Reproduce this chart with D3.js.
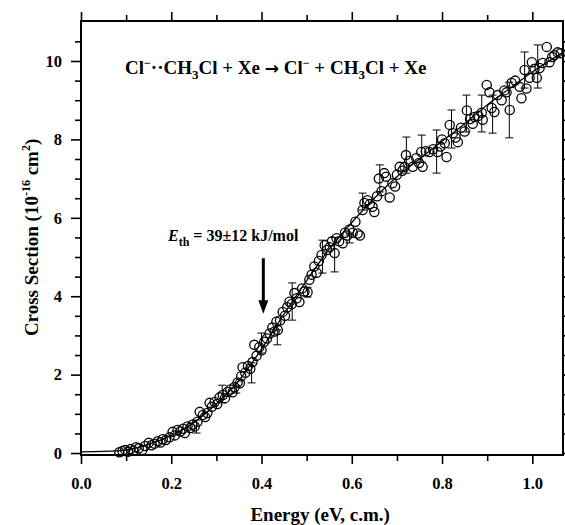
<!DOCTYPE html>
<html>
<head>
<meta charset="utf-8">
<script src="https://cdn.jsdelivr.net/npm/d3@7"></script>
<style>
  body { margin: 0; background: #fff; }
  svg text { font-family: "Liberation Serif", "Times New Roman", serif; font-weight: bold; fill: #000; }
  .axis line { stroke: #000; stroke-width: 1.6; }
  .axis path { display: none; }
</style>
</head>
<body>
<div id="chart"></div>
<script>
// measured points (energy in eV c.m., cross section in 1e-16 cm^2)
var energy = [
  0.085, 0.092, 0.098, 0.104, 0.110, 0.116, 0.122, 0.128, 0.136, 0.142,
  0.150, 0.156, 0.163, 0.170, 0.176, 0.181, 0.188, 0.196, 0.203, 0.208,
  0.214, 0.220, 0.226, 0.230, 0.236, 0.242, 0.247, 0.252, 0.258, 0.263,
  0.270, 0.275, 0.280, 0.285, 0.290, 0.296, 0.302, 0.307, 0.314, 0.319,
  0.325, 0.331, 0.336, 0.340, 0.347, 0.352, 0.355, 0.358, 0.364, 0.370,
  0.375, 0.380, 0.384, 0.389, 0.395, 0.400, 0.406, 0.412, 0.418, 0.424,
  0.429, 0.433, 0.436, 0.441, 0.447, 0.452, 0.457, 0.462, 0.467, 0.473,
  0.478, 0.484, 0.490, 0.495, 0.502, 0.506, 0.511, 0.517, 0.522, 0.527,
  0.533, 0.540, 0.545, 0.551, 0.556, 0.562, 0.566, 0.572, 0.580, 0.585,
  0.590, 0.595, 0.602, 0.608, 0.613, 0.618, 0.624, 0.628, 0.635, 0.640,
  0.646, 0.650, 0.656, 0.660, 0.666, 0.672, 0.676, 0.684, 0.690, 0.696,
  0.700, 0.706, 0.712, 0.717, 0.720, 0.727, 0.735, 0.743, 0.749, 0.754,
  0.757, 0.764, 0.772, 0.780, 0.790, 0.796, 0.800, 0.806, 0.810, 0.817,
  0.824, 0.830, 0.835, 0.842, 0.850, 0.855, 0.862, 0.868, 0.872, 0.880,
  0.888, 0.890, 0.899, 0.905, 0.910, 0.916, 0.923, 0.932, 0.938, 0.943,
  0.950, 0.954, 0.962, 0.972, 0.976, 0.983, 0.987, 0.994, 0.999, 1.005,
  1.010, 1.016, 1.023, 1.032, 1.038, 1.044, 1.049, 1.056, 1.063
]
var sigma = [
  0.02, 0.05, 0.08, 0.03, 0.10, 0.06, 0.15, 0.12, 0.08, 0.18,
  0.26, 0.20, 0.24, 0.30, 0.27, 0.35, 0.33, 0.40, 0.54, 0.45,
  0.59, 0.55, 0.62, 0.51, 0.68, 0.64, 0.72, 0.68, 0.80, 1.05,
  0.97, 0.92, 1.02, 1.28, 1.18, 1.30, 1.25, 1.42, 1.48, 1.40,
  1.56, 1.62, 1.55, 1.68, 1.80, 1.78, 1.96, 2.19, 2.05, 2.22,
  2.15, 2.32, 2.76, 2.48, 2.70, 2.62, 2.84, 2.92, 3.05, 3.20,
  3.10, 3.35, 3.14, 3.38, 3.60, 3.50, 3.72, 3.86, 3.80, 4.08,
  3.95, 3.85, 4.20, 4.12, 4.10, 4.42, 4.55, 4.76, 4.60, 4.90,
  5.05, 5.30, 5.18, 5.25, 5.40, 5.10, 5.48, 5.40, 5.35, 5.62,
  5.55, 5.70, 5.62, 5.90, 5.60, 5.55, 6.20, 6.38, 6.45, 6.35,
  6.28, 6.15, 6.55, 7.00, 6.68, 7.14, 7.05, 6.52, 6.88, 6.80,
  7.10, 7.30, 7.20, 7.30, 7.60, 7.45, 7.30, 7.52, 7.40, 7.68,
  7.30, 7.70, 7.68, 7.75, 7.68, 7.82, 8.00, 7.90, 7.55, 8.37,
  8.16, 8.05, 7.93, 8.30, 8.20, 8.74, 8.52, 8.40, 8.57, 8.60,
  8.68, 8.50, 9.39, 9.20, 8.80, 8.70, 9.13, 9.00, 9.25, 9.20,
  8.75, 9.44, 9.50, 9.34, 9.05, 9.77, 9.30, 9.57, 9.97, 9.80,
  9.57, 9.82, 9.95, 10.36, 9.97, 10.10, 10.15, 10.22, 10.20
]

// error bars drawn on a subset of points
var errEnergy = [0.256, 0.313, 0.344, 0.378, 0.400, 0.435, 0.468, 0.502, 0.535, 0.562, 0.595,
  0.624, 0.662, 0.721, 0.755, 0.788, 0.821, 0.854, 0.888, 0.912, 0.949, 0.983, 1.012]
var errLow = [0.51, 1.28, 1.53, 1.79, 2.55, 2.76, 3.39, 3.98, 4.59, 4.62, 5.36,
  6.20, 6.66, 7.14, 7.42, 7.14, 7.78, 8.19, 8.19, 8.16, 8.04, 9.31, 9.31]
var errHigh = [0.84, 1.73, 1.73, 2.30, 3.06, 3.14, 4.34, 4.23, 5.43, 5.50, 5.56,
  6.63, 7.35, 8.06, 8.11, 8.24, 8.75, 9.13, 9.13, 9.13, 9.46, 10.23, 10.41]

// fitted model curve
var fitEnergy = [0.00, 0.05, 0.10, 0.15, 0.20, 0.25, 0.30, 0.35, 0.40, 0.45, 0.50,
  0.55, 0.60, 0.65, 0.70, 0.75, 0.80, 0.85, 0.90, 0.95, 1.00, 1.068]
var fitSigma = [0.03, 0.04, 0.08, 0.22, 0.45, 0.78, 1.25, 1.85, 2.65, 3.55, 4.40,
  5.20, 5.88, 6.50, 7.05, 7.50, 7.95, 8.40, 8.88, 9.30, 9.72, 10.22]

var xMajor = [0.0, 0.2, 0.4, 0.6, 0.8, 1.0]
var xMinor = [0.1, 0.3, 0.5, 0.7, 0.9]
var yMajor = [0, 2, 4, 6, 8, 10]
var yMinor = [0.5, 1, 1.5, 2.5, 3, 3.5, 4.5, 5, 5.5, 6.5, 7, 7.5, 8.5, 9, 9.5, 10.5]

var thresholdE = 0.404

var margin = {top: 21, right: 2, bottom: 70, left: 81}
var W = 565
var H = 525
var width = W - margin.left - margin.right
var height = H - margin.top - margin.bottom

var svg = d3.select('#chart').append('svg')
  .attr('width', W)
  .attr('height', H)

var g = svg.append('g')
  .attr('transform', 'translate(' + margin.left + ',' + margin.top + ')')

var x = d3.scaleLinear().domain([0, 1.068]).range([0, width])
var y = d3.scaleLinear().domain([-0.05, 11.02]).range([height, 0])

// axes: majors with labels, minors without
g.append('g').attr('class', 'axis')
  .attr('transform', 'translate(0,' + height + ')')
  .call(d3.axisBottom(x).tickValues(xMajor).tickSize(9).tickPadding(13).tickFormat(d3.format('.1f')))
  .selectAll('text').style('font-size', '16.5px')
g.append('g').attr('class', 'axis')
  .attr('transform', 'translate(0,' + height + ')')
  .call(d3.axisBottom(x).tickValues(xMinor).tickSize(6).tickFormat(''))
g.append('g').attr('class', 'axis')
  .call(d3.axisTop(x).tickValues(xMajor).tickSize(9).tickFormat(''))
g.append('g').attr('class', 'axis')
  .call(d3.axisTop(x).tickValues(xMinor).tickSize(6).tickFormat(''))

g.append('g').attr('class', 'axis')
  .call(d3.axisLeft(y).tickValues(yMajor).tickSize(10).tickPadding(9).tickFormat(d3.format('d')))
  .selectAll('text').style('font-size', '16.5px')
g.append('g').attr('class', 'axis')
  .call(d3.axisLeft(y).tickValues(yMinor).tickSize(6).tickFormat(''))
g.append('g').attr('class', 'axis')
  .attr('transform', 'translate(' + width + ',0)')
  .call(d3.axisRight(y).tickValues(yMajor).tickSize(8).tickFormat(''))
g.append('g').attr('class', 'axis')
  .attr('transform', 'translate(' + width + ',0)')
  .call(d3.axisRight(y).tickValues(yMinor).tickSize(5).tickFormat(''))

g.append('rect')
  .attr('width', width)
  .attr('height', height)
  .attr('fill', 'none')
  .attr('stroke', '#000')
  .attr('stroke-width', 2)

// fit line
var fitData = fitEnergy.map(function (e, i) { return [e, fitSigma[i]] })
g.append('path')
  .datum(fitData)
  .attr('fill', 'none')
  .attr('stroke', '#000')
  .attr('stroke-width', 1.3)
  .attr('d', d3.line()
    .x(function (d) { return x(d[0]) })
    .y(function (d) { return y(d[1]) })
    .curve(d3.curveMonotoneX))

// error bars
var errData = errEnergy.map(function (e, i) { return {e: e, lo: errLow[i], hi: errHigh[i]} })
var bars = g.selectAll('.err')
  .data(errData)
  .enter().append('g')
  .attr('class', 'err')
  .attr('stroke', '#000')
  .attr('stroke-width', 1)
bars.append('line')
  .attr('x1', function (d) { return x(d.e) })
  .attr('x2', function (d) { return x(d.e) })
  .attr('y1', function (d) { return y(d.lo) })
  .attr('y2', function (d) { return y(d.hi) })
bars.append('line')
  .attr('x1', function (d) { return x(d.e) - 4 })
  .attr('x2', function (d) { return x(d.e) + 4 })
  .attr('y1', function (d) { return y(d.lo) })
  .attr('y2', function (d) { return y(d.lo) })
bars.append('line')
  .attr('x1', function (d) { return x(d.e) - 4 })
  .attr('x2', function (d) { return x(d.e) + 4 })
  .attr('y1', function (d) { return y(d.hi) })
  .attr('y2', function (d) { return y(d.hi) })

// data points
g.selectAll('.pt')
  .data(energy)
  .enter().append('circle')
  .attr('class', 'pt')
  .attr('cx', function (d) { return x(d) })
  .attr('cy', function (d, i) { return y(sigma[i]) })
  .attr('r', 4.6)
  .attr('fill', 'none')
  .attr('stroke', '#000')
  .attr('stroke-width', 1.3)

// reaction label
var title = g.append('text')
  .attr('x', 44)
  .attr('y', 53)
  .style('font-size', '19px')
title.append('tspan').text('Cl')
title.append('tspan').attr('dy', -7).style('font-size', '12px').text('\u2212')
title.append('tspan').attr('dy', 7).text('\u00b7\u00b7CH')
title.append('tspan').attr('dy', 5).style('font-size', '13px').text('3')
title.append('tspan').attr('dy', -5).text('Cl + Xe ')
title.append('tspan').style('font-family', 'DejaVu Sans').style('font-size', '17px').text('\u2192')
title.append('tspan').text(' Cl')
title.append('tspan').attr('dy', -7).style('font-size', '12px').text('\u2212')
title.append('tspan').attr('dy', 7).text(' + CH')
title.append('tspan').attr('dy', 5).style('font-size', '13px').text('3')
title.append('tspan').attr('dy', -5).text('Cl + Xe')

// threshold annotation
var ann = g.append('text')
  .attr('x', 87)
  .attr('y', 220)
  .style('font-size', '16px')
ann.append('tspan').style('font-style', 'italic').text('E')
ann.append('tspan').attr('dy', 5).style('font-size', '12px').text('th')
ann.append('tspan').attr('dy', -5).text(' = 39\u00b112 kJ/mol')

g.append('line')
  .attr('x1', x(thresholdE))
  .attr('x2', x(thresholdE))
  .attr('y1', y(4.97))
  .attr('y2', y(3.85))
  .attr('stroke', '#000')
  .attr('stroke-width', 3)
g.append('path')
  .attr('d', 'M' + (x(thresholdE) - 5) + ',' + y(3.9) +
    'L' + (x(thresholdE) + 5) + ',' + y(3.9) +
    'L' + x(thresholdE) + ',' + y(3.55) + 'Z')
  .attr('fill', '#000')

// axis titles
svg.append('text')
  .attr('x', margin.left + x(0.53))
  .attr('y', 521)
  .attr('text-anchor', 'middle')
  .style('font-size', '19px')
  .text('Energy (eV, c.m.)')

var ytitle = svg.append('text')
  .attr('transform', 'translate(38,' + (margin.top + y(5.5)) + ') rotate(-90)')
  .attr('text-anchor', 'middle')
  .style('font-size', '19px')
ytitle.append('tspan').text('Cross Section (10')
ytitle.append('tspan').attr('dy', -8).style('font-size', '12px').text('-16')
ytitle.append('tspan').attr('dy', 8).text(' cm')
ytitle.append('tspan').attr('dy', -8).style('font-size', '12px').text('2')
ytitle.append('tspan').attr('dy', 8).text(')')
</script>
</body>
</html>
